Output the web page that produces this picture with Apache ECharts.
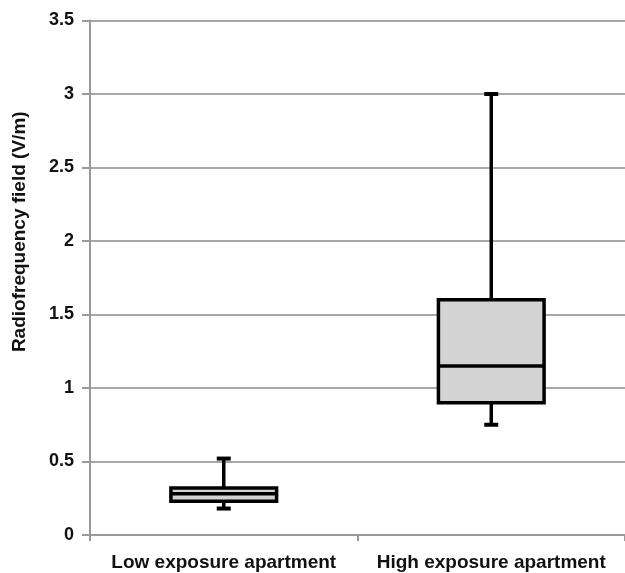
<!DOCTYPE html>
<html>
<head>
<meta charset="utf-8">
<script src="https://cdn.jsdelivr.net/npm/echarts@6/dist/echarts.min.js"></script>
<style>html,body{margin:0;padding:0;background:#fff}#c{width:625px;height:573px}</style>
</head>
<body>
<div id="c"></div>
<script>
var categories = ['Low exposure apartment', 'High exposure apartment'];
var whiskerMin = [0.18, 0.75];
var q1 = [0.23, 0.90];
var median = [0.28, 1.15];
var q3 = [0.32, 1.60];
var whiskerMax = [0.52, 3.00];
var yTicks = [0, 0.5, 1, 1.5, 2, 2.5, 3, 3.5];

var data = categories.map(function (c, i) {
  return [i, whiskerMin[i], q1[i], median[i], q3[i], whiskerMax[i]];
});

var FONT = 'Liberation Sans, Arial, sans-serif';
var chart = echarts.init(document.getElementById('c'));
chart.setOption({
  animation: false,
  backgroundColor: '#ffffff',
  grid: { left: 90, right: -4, top: 20.5, bottom: 38, containLabel: false },
  xAxis: {
    type: 'category',
    data: categories,
    axisLine: { lineStyle: { color: '#9a9a9a', width: 2 } },
    axisTick: { show: true, interval: 0, length: 6, lineStyle: { color: '#9a9a9a', width: 2 } },
    axisLabel: { interval: 0, hideOverlap: false, color: '#111', fontWeight: 'bold', fontSize: 19, fontFamily: FONT, margin: 18 },
    splitLine: { show: false }
  },
  yAxis: {
    type: 'value',
    min: 0, max: 3.5, interval: 0.5,
    name: 'Radiofrequency field (V/m)',
    nameLocation: 'middle',
    nameGap: 61,
    nameTextStyle: { color: '#111', fontWeight: 'bold', fontSize: 19, fontFamily: FONT, padding: [0, 0, 0, 92] },
    axisLine: { show: true, lineStyle: { color: '#9a9a9a', width: 2 } },
    axisTick: { show: true, length: 8, lineStyle: { color: '#9a9a9a', width: 2 } },
    axisLabel: {
      color: '#111', fontWeight: 'bold', fontSize: 18, fontFamily: FONT, margin: 16,
      formatter: function (v) { return yTicks.indexOf(v) >= 0 ? String(v) : ''; }
    },
    splitLine: { show: true, lineStyle: { color: '#a8a8a8', width: 2 } }
  },
  series: [{
    type: 'custom',
    data: data,
    encode: { x: 0, y: [1, 2, 3, 4, 5] },
    renderItem: function (params, api) {
      var x = api.value(0);
      var pMin = api.coord([x, api.value(1)]);
      var pQ1 = api.coord([x, api.value(2)]);
      var pMed = api.coord([x, api.value(3)]);
      var pQ3 = api.coord([x, api.value(4)]);
      var pMax = api.coord([x, api.value(5)]);
      var bw = api.size([1, 0])[0] * 0.395;
      var cw = 14;
      var cx = pMed[0];
      var stroke = { stroke: '#000', lineWidth: 3.5, fill: null };
      return {
        type: 'group',
        children: [
          { type: 'line', shape: { x1: cx, y1: pQ3[1], x2: cx, y2: pMax[1] }, style: stroke },
          { type: 'line', shape: { x1: cx, y1: pQ1[1], x2: cx, y2: pMin[1] }, style: stroke },
          { type: 'line', shape: { x1: cx - cw / 2, y1: pMax[1], x2: cx + cw / 2, y2: pMax[1] }, style: { stroke: '#000', lineWidth: 4 } },
          { type: 'line', shape: { x1: cx - cw / 2, y1: pMin[1], x2: cx + cw / 2, y2: pMin[1] }, style: { stroke: '#000', lineWidth: 4 } },
          { type: 'rect', shape: { x: cx - bw / 2, y: pQ3[1], width: bw, height: pQ1[1] - pQ3[1] }, style: { fill: '#d3d3d3', stroke: '#000', lineWidth: 3.5 } },
          { type: 'line', shape: { x1: cx - bw / 2, y1: pMed[1], x2: cx + bw / 2, y2: pMed[1] }, style: stroke }
        ]
      };
    }
  }]
});
</script>
</body>
</html>
